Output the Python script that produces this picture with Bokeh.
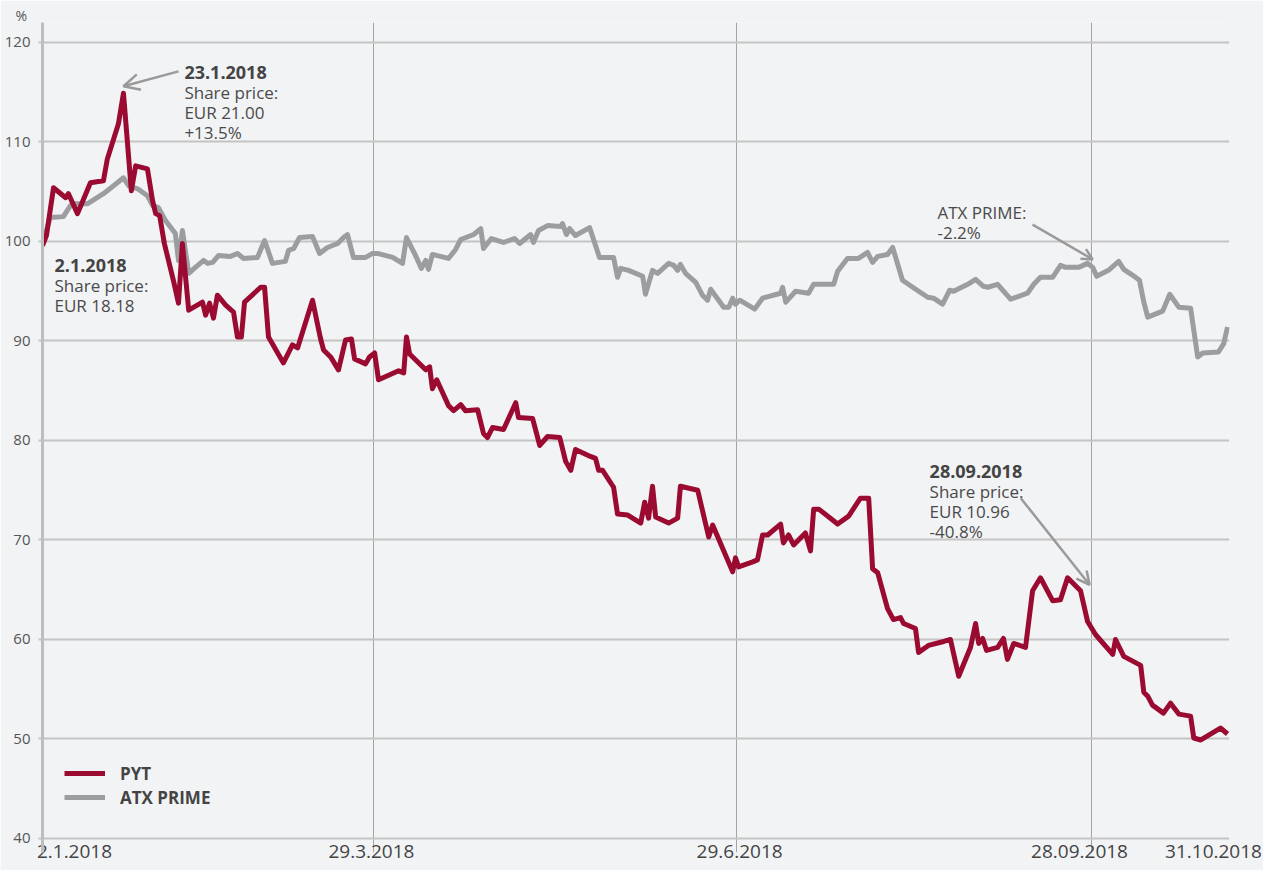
from bokeh.plotting import figure
from bokeh.models import FixedTicker, Label, Arrow, OpenHead, Legend, LegendItem, Range1d
from bokeh.embed import file_html
from bokeh.resources import INLINE

# ---- data (x = chart time scale in days from 2.1.2018, y = indexed %, 2.1.2018 = 100) ----
pyt_day = [0.0, 1.0, 2.8, 5.9, 6.6, 8.9, 12.2, 15.5, 16.5, 19.3, 20.6, 22.6, 23.7, 26.7, 28.0, 28.8,
           29.8, 31.0, 33.3, 34.6, 35.6, 37.2, 40.7, 41.5, 42.5, 43.5, 44.5, 46.6, 48.6, 49.6, 50.6,
           51.4, 55.5, 56.5, 57.5, 61.3, 63.6, 64.9, 68.7, 70.7, 71.5, 73.3, 75.3, 77.1, 78.6, 79.4,
           82.2, 83.2, 84.5, 85.5, 90.6, 91.9, 92.6, 93.4, 97.5, 98.5, 99.2, 100.3, 103.3, 104.6,
           106.4, 107.6, 110.7, 112.2, 113.2, 114.5, 117.3, 120.4, 121.1, 124.7, 126.5, 128.5, 131.6,
           133.1, 134.4, 135.6, 139.4, 140.7, 141.5, 142.5, 145.3, 146.3, 148.9, 152.2, 153.2, 154.2,
           155.2, 156.0, 159.3, 161.6, 162.3, 166.7, 169.5, 170.5, 175.6, 176.3, 177.1, 180.7, 181.9,
           183.2, 184.5, 187.8, 188.5, 189.8, 191.1, 194.1, 195.4, 196.2, 197.5, 202.3, 205.1, 208.1,
           210.2, 211.2, 212.5, 215.0, 216.5, 218.3, 219.1, 222.1, 222.9, 225.4, 229.3, 231.0, 233.1,
           236.1, 237.4, 238.2, 239.2, 240.2, 243.0, 244.5, 245.5, 247.1, 250.1, 251.9, 253.9, 257.0,
           259.0, 260.8, 264.1, 265.9, 267.9, 272.3, 273.0, 275.1, 279.4, 280.2, 281.2, 282.4, 285.2,
           287.0, 289.1, 292.1, 292.9, 294.7, 299.7, 301.5]
pyt_val = [99.6, 100.6, 105.4, 104.4, 104.8, 102.8, 105.9, 106.1, 108.3, 111.8, 114.9, 105.1, 107.6,
           107.3, 104.1, 102.8, 102.6, 99.8, 96.1, 93.8, 99.8, 93.1, 93.9, 92.6, 93.8, 92.3, 94.6, 93.6,
           92.9, 90.4, 90.4, 93.9, 95.4, 95.4, 90.4, 87.8, 89.6, 89.3, 94.1, 90.3, 89.1, 88.4, 87.1,
           90.1, 90.2, 88.2, 87.7, 88.4, 88.8, 86.1, 87.0, 86.8, 90.4, 88.7, 87.1, 87.4, 85.2, 86.1,
           83.5, 83.0, 83.6, 83.0, 83.1, 80.7, 80.3, 81.3, 81.1, 83.8, 82.3, 82.2, 79.5, 80.4, 80.3,
           77.9, 77.0, 79.1, 78.4, 78.2, 77.0, 77.0, 75.3, 72.6, 72.5, 71.7, 73.8, 72.2, 75.4, 72.3,
           71.7, 72.2, 75.4, 75.0, 70.3, 71.5, 66.8, 68.2, 67.3, 67.8, 68.0, 70.5, 70.5, 71.6, 69.7,
           70.5, 69.5, 70.7, 68.9, 73.1, 73.1, 71.6, 72.4, 74.2, 74.2, 67.1, 66.7, 63.1, 62.0, 62.2,
           61.6, 61.1, 58.7, 59.4, 59.8, 60.0, 56.3, 59.2, 61.6, 59.6, 60.1, 58.9, 59.2, 60.1, 58.0,
           59.6, 59.2, 64.9, 66.2, 63.9, 64.0, 66.2, 64.9, 61.8, 60.5, 58.5, 60.0, 58.3, 57.4, 54.7,
           54.3, 53.4, 52.6, 53.6, 52.5, 52.3, 50.1, 49.9, 51.1, 50.5]

atx_day = [0.0, 2.0, 5.3, 7.1, 8.4, 11.5, 13.5, 15.5, 18.1, 20.6, 21.9, 24.2, 26.7, 28.0, 29.5, 31.3,
           33.8, 34.6, 35.6, 37.2, 38.9, 41.0, 42.0, 43.3, 44.8, 47.8, 49.6, 51.1, 54.7, 56.5, 58.5,
           61.8, 62.6, 63.9, 65.4, 68.7, 70.5, 72.5, 75.1, 76.6, 77.6, 79.1, 82.2, 84.0, 85.2, 89.1,
           91.6, 92.6, 94.9, 96.4, 97.5, 98.2, 99.2, 103.3, 105.1, 106.4, 109.7, 111.5, 112.2, 114.2,
           117.3, 120.1, 121.4, 124.2, 124.9, 126.2, 128.5, 131.8, 132.3, 133.3, 134.1, 135.6, 139.2,
           141.7, 145.3, 146.3, 147.1, 149.1, 152.7, 153.4, 155.2, 156.5, 159.3, 160.6, 161.6, 162.3,
           163.6, 166.2, 167.9, 169.2, 170.0, 173.3, 174.6, 175.6, 176.3, 177.4, 181.2, 183.2, 187.8,
           188.3, 189.1, 191.6, 194.9, 196.2, 201.3, 202.3, 204.8, 207.6, 209.9, 211.2, 212.5, 215.0,
           216.3, 218.8, 221.4, 225.2, 226.7, 229.0, 230.8, 231.8, 235.4, 237.4, 239.4, 240.5, 243.0,
           246.3, 250.6, 252.2, 253.9, 257.0, 259.0, 260.3, 263.6, 265.9, 267.2, 268.2, 271.2, 273.8,
           275.1, 277.4, 279.1, 280.2, 281.2, 285.0, 286.8, 289.1, 292.1, 293.9, 295.2, 299.2, 300.5,
           301.5]
atx_val = [99.8, 102.4, 102.5, 103.6, 103.8, 103.8, 104.3, 104.8, 105.6, 106.4, 105.6, 105.3, 104.6,
           103.6, 103.4, 102.1, 100.8, 98.1, 101.1, 96.8, 97.4, 98.1, 97.8, 97.9, 98.6, 98.5, 98.8,
           98.3, 98.4, 100.1, 97.8, 98.0, 99.1, 99.3, 100.4, 100.5, 98.8, 99.4, 99.8, 100.4, 100.7,
           98.4, 98.4, 98.8, 98.8, 98.4, 97.8, 100.4, 98.6, 97.3, 98.1, 97.2, 98.7, 98.3, 99.2, 100.2,
           100.7, 101.3, 99.3, 100.3, 99.9, 100.3, 99.8, 100.7, 99.9, 101.1, 101.6, 101.5, 101.8, 100.7,
           101.3, 100.6, 101.4, 98.4, 98.4, 96.4, 97.3, 97.1, 96.5, 94.7, 97.1, 96.8, 97.8, 97.6, 97.1,
           97.7, 96.8, 95.9, 94.6, 94.1, 95.2, 93.4, 93.4, 94.3, 93.7, 94.1, 93.2, 94.3, 94.8, 95.4,
           93.9, 95.0, 94.8, 95.7, 95.7, 97.0, 98.3, 98.3, 98.9, 97.9, 98.5, 98.7, 99.4, 96.1, 95.4,
           94.4, 94.3, 93.7, 95.1, 95.0, 95.7, 96.2, 95.5, 95.4, 95.7, 94.2, 94.8, 95.7, 96.4, 96.4,
           97.6, 97.4, 97.4, 97.8, 97.4, 96.5, 97.1, 98.0, 97.2, 96.6, 96.1, 93.9, 92.4, 93.0, 94.7,
           93.4, 93.3, 88.4, 88.8, 88.9, 89.7, 91.4]

# date markers on the chart's time scale and their labels
x_tick_pos = [0, 84.2, 176.6, 266.9, 302]
x_tick_labels = ["2.1.2018", "29.3.2018", "29.6.2018", "28.09.2018", "31.10.2018"]
y_ticks = [40, 50, 60, 70, 80, 90, 100, 110, 120]

series_names = ["PYT", "ATX PRIME"]

ann_peak_title = "23.1.2018"
ann_peak_lines = ["Share price:", "EUR 21.00", "+13.5%"]
ann_start_title = "2.1.2018"
ann_start_lines = ["Share price:", "EUR 18.18"]
ann_atx_lines = ["ATX PRIME:", "-2.2%"]
ann_sep_title = "28.09.2018"
ann_sep_lines = ["Share price:", "EUR 10.96", "-40.8%"]

BG = "#f2f3f5"
RED = "#9b0a30"
GREY = "#9c9da0"
TXT = "#4a4a4a"
FONT = "Open Sans"

W, H = 1263, 870
X0, X1 = 0, 302
LEFT, RIGHT, TOP, BOTTOM = 42, 34, 22, 18
PX_PER_DAY = (W - LEFT - RIGHT) / (X1 - X0)

p = figure(width=W, height=H, output_backend="svg", toolbar_location=None, title="%",
           x_range=Range1d(X0, X1), y_range=Range1d(38.59, 122.01),
           min_border_left=LEFT, min_border_right=RIGHT, min_border_top=TOP,
           min_border_bottom=BOTTOM)
p.background_fill_color = BG
p.border_fill_color = BG
p.outline_line_color = None

# unit label "%" above the value axis
p.title.align = "left"
p.title.offset = -27
p.title.standoff = -4
p.title.text_font = FONT
p.title.text_font_size = "14px"
p.title.text_font_style = "normal"
p.title.text_color = "#555555"

# value axis
p.yaxis.ticker = FixedTicker(ticks=y_ticks)
p.yaxis.axis_line_color = "#bdbdbd"
p.yaxis.axis_line_width = 3
p.yaxis.major_tick_out = 4
p.yaxis.major_tick_in = 0
p.yaxis.major_tick_line_color = "#c2c2c2"
p.yaxis.major_tick_line_width = 2
p.yaxis.minor_tick_line_color = None
p.yaxis.major_label_standoff = 8
p.yaxis.major_label_text_font = FONT
p.yaxis.major_label_text_font_size = "15px"
p.yaxis.major_label_text_color = "#555555"

# date axis: labels set a little off their marker lines, as in the original layout
label_shift_px = [32, -2, 3, -12, -16]
label_pos = [d + s / PX_PER_DAY for d, s in zip(x_tick_pos, label_shift_px)]
p.xaxis.ticker = FixedTicker(ticks=label_pos)
p.xaxis.major_label_overrides = {pos: lab for pos, lab in zip(label_pos, x_tick_labels)}
p.xaxis.axis_line_color = None
p.xaxis.major_tick_line_color = None
p.xaxis.minor_tick_line_color = None
p.xaxis.major_tick_out = 0
p.xaxis.major_tick_in = 0
p.xaxis.major_label_standoff = -8
p.xaxis.major_label_text_font = FONT
p.xaxis.major_label_text_font_size = "19px"
p.xaxis.major_label_text_color = "#444444"

p.ygrid.ticker = FixedTicker(ticks=y_ticks)
p.ygrid.grid_line_color = "#c4c4c4"
p.ygrid.grid_line_width = 2
p.xgrid.ticker = FixedTicker(ticks=x_tick_pos)
p.xgrid.grid_line_color = "#a3a3a3"
p.xgrid.grid_line_width = 1

r_atx = p.line(atx_day, atx_val, line_color=GREY, line_width=5, line_join="round")
r_pyt = p.line(pyt_day, pyt_val, line_color=RED, line_width=5, line_join="round")

legend = Legend(items=[LegendItem(label=series_names[0], renderers=[r_pyt]),
                       LegendItem(label=series_names[1], renderers=[r_atx])],
                location=(22, 43), glyph_width=41, glyph_height=24, label_height=24,
                spacing=0, padding=0, margin=0, label_standoff=15,
                border_line_color=None, background_fill_alpha=0,
                label_text_font=FONT, label_text_font_style="bold",
                label_text_font_size="17px", label_text_color="#444444")
p.add_layout(legend)


def block(day, top_val, title, lines):
    i = 0
    if title:
        p.add_layout(Label(x=day, y=top_val, text=title, text_font=FONT, text_font_style="bold",
                           text_font_size="18px", text_color="#444444",
                           text_baseline="alphabetic"))
        i = 1
    for ln in lines:
        p.add_layout(Label(x=day, y=top_val - 2.0 * i, text=ln, text_font=FONT,
                           text_font_size="17px", text_color=TXT, text_baseline="alphabetic"))
        i += 1


block(36.1, 117.0, ann_peak_title, ann_peak_lines)
block(3.05, 97.6, ann_start_title, ann_start_lines)
block(227.7, 102.9, None, ann_atx_lines)
block(225.7, 76.9, ann_sep_title, ann_sep_lines)

ARROW = "#9a9a9a"
for (xs, ys, xe, ye, hs) in [(34.6, 117.1, 20.6, 115.6, 16),
                             (251.9, 101.7, 267.2, 98.2, 11),
                             (248.9, 74.2, 266.4, 65.5, 13)]:
    p.add_layout(Arrow(end=OpenHead(size=hs, line_color=ARROW, line_width=2.5),
                       x_start=xs, y_start=ys, x_end=xe, y_end=ye,
                       line_color=ARROW, line_width=2.5))

html = file_html(p, INLINE)
html = html.replace("<body>", '<body style="background-color:%s;">' % BG, 1)
open("out.html", "w").write(html)
